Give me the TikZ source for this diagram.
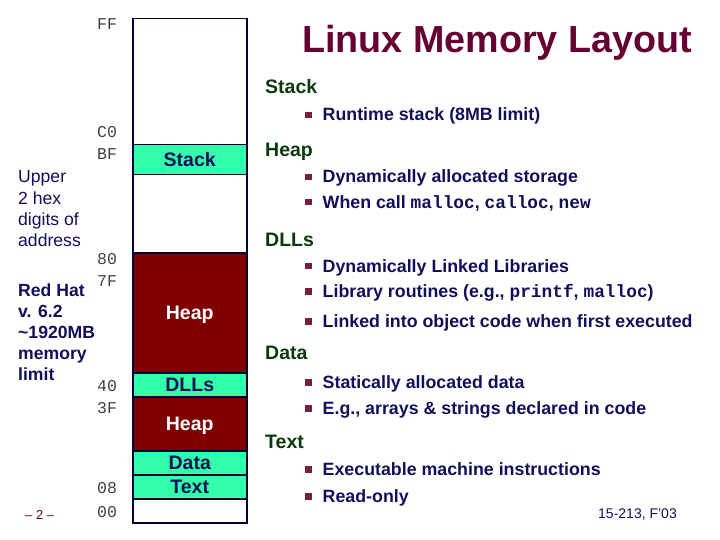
\documentclass[tikz,border=0pt]{standalone}
\usepackage{fontspec}
\setmainfont{Liberation Sans}
\setmonofont{Liberation Mono}
\usepackage{xcolor}
\usepackage{tikz}
\definecolor{bordo}{HTML}{800000}
\definecolor{naneYesil}{HTML}{33FFAA}
\definecolor{lacivert}{HTML}{10105A}
\definecolor{cerceve}{HTML}{000033}
\definecolor{baslikMor}{HTML}{660033}
\definecolor{koyuYesil}{HTML}{0A3A0A}
\definecolor{madde}{HTML}{7A1F3A}
\newcommand{\boyut}[2]{\fontsize{#1}{#2}\selectfont}
\newcommand{\imi}{\textcolor{madde}{\rule[2.5pt]{6.5pt}{6.5pt}}\hspace{11pt}}

\begin{document}
\begin{tikzpicture}[x=1pt,y=-1pt,
  blok/.style={draw=cerceve,line width=1.5pt,anchor=north west,inner sep=0pt,
    minimum width=114pt,font=\boyut{19.5}{22}\bfseries,text height=14pt,text depth=0pt},
  yigin/.style={blok,fill=naneYesil,text=lacivert},
  oyuk/.style={blok,fill=bordo,text=white},
  bos/.style={blok,fill=white},
  adres/.style={anchor=base west,inner sep=0pt,font=\ttfamily\boyut{16.5}{18},text=black!75},
  baslik/.style={anchor=base west,inner sep=0pt,font=\boyut{19.5}{22}\bfseries,text=koyuYesil},
  satir/.style={anchor=base west,inner sep=0pt,font=\boyut{17.8}{21}\bfseries,text=lacivert},
  yan/.style={anchor=north west,inner sep=0pt,align=left,text=lacivert}]
\useasboundingbox (0,0) rectangle (720,540);
% bellek sutunu
\node[bos,minimum height=126pt] (ust) at (132,18) {};
\node[yigin,minimum height=30pt] (stk) at (132,144) {Stack};
\node[bos,minimum height=78pt] (bosluk) at (132,174) {};
\node[oyuk,minimum height=120pt] (heap1) at (132,252) {Heap};
\node[yigin,minimum height=24pt] (dll) at (132,372) {DLLs};
\node[oyuk,minimum height=54pt] (heap2) at (132,396) {Heap};
\node[yigin,minimum height=24pt] (veri) at (132,450) {Data};
\node[yigin,minimum height=24pt] (kod) at (132,474) {Text};
\node[bos,minimum height=24pt] (alt) at (132,498) {};
% adresler
\node[adres] (aFF) at (97,29.5) {FF};
\node[adres] (aC0) at (97,137.5) {C0};
\node[adres] (aBF) at (97,160) {BF};
\node[adres] (a80) at (97,264) {80};
\node[adres] (a7F) at (97,286) {7F};
\node[adres] (a40) at (97,391) {40};
\node[adres] (a3F) at (97,413) {3F};
\node[adres] (a08) at (97,493) {08};
\node[adres] (a00) at (97,517) {00};
% sol metinler
\node[yan,font=\boyut{17.6}{21.3}] (ustHane) at (18,170.6) {Upper\\2 hex\\digits of\\address};
\node[yan,font=\boyut{17.6}{20.8}\bfseries] (redhat) at (18,284) {Red Hat\\v. 6.2\\\textasciitilde1920MB\\memory\\limit};
% baslik
\node[anchor=base west,inner sep=0pt,font=\boyut{37.7}{40}\bfseries,text=baslikMor] (ad) at (302,53) {Linux Memory Layout};
% aciklamalar
\node[baslik] (bStack) at (265,94) {Stack};
\node[satir] (s1) at (305,121) {\imi Runtime stack (8MB limit)};
\node[baslik] (bHeap) at (265,157) {Heap};
\node[satir] (s2) at (305,183) {\imi Dynamically allocated storage};
\node[satir] (s3) at (305,208) {\imi When call \texttt{malloc}, \texttt{calloc}, \texttt{new}};
\node[baslik] (bDll) at (265,246) {DLLs};
\node[satir] (s4) at (305,272) {\imi Dynamically Linked Libraries};
\node[satir] (s5) at (305,297) {\imi Library routines (e.g., \texttt{printf}, \texttt{malloc})};
\node[satir] (s6) at (305,327) {\imi Linked into object code when first executed};
\node[baslik] (bData) at (265,359) {Data};
\node[satir] (s7) at (305,388) {\imi Statically allocated data};
\node[satir] (s8) at (305,414) {\imi E.g., arrays \& strings declared in code};
\node[baslik] (bText) at (265,448) {Text};
\node[satir] (s9) at (305,475) {\imi Executable machine instructions};
\node[satir] (s10) at (305,502) {\imi Read-only};
% alt bilgi
\node[anchor=base west,inner sep=0pt,font=\boyut{13}{15},text=baslikMor] (sayfa) at (25,519) {\textendash\ 2\ \textendash};
\node[anchor=base west,inner sep=0pt,font=\boyut{14}{16},text=lacivert] (ders) at (598,518) {15-213, F'03};
\end{tikzpicture}
\end{document}
